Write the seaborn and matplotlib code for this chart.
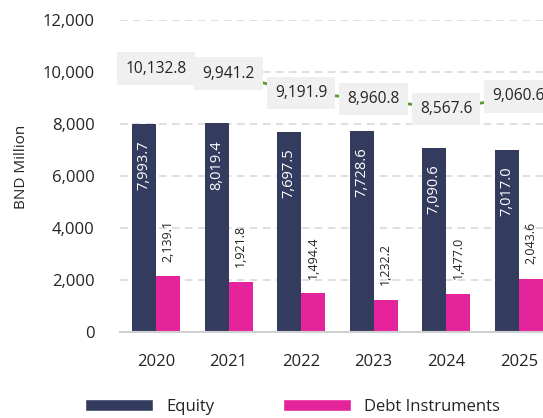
import numpy as np
import pandas as pd
import matplotlib
matplotlib.use("Agg")
import matplotlib.pyplot as plt
from matplotlib.patches import Patch
from matplotlib.ticker import FuncFormatter
import seaborn as sns

years = ["2020", "2021", "2022", "2023", "2024", "2025"]
equity = [7993.7, 8019.4, 7697.5, 7728.6, 7090.6, 7017.0]
debt = [2139.1, 1921.8, 1494.4, 1232.2, 1477.0, 2043.6]
totals = [10132.8, 9941.2, 9191.9, 8960.8, 8567.6, 9060.6]
series = ["Equity", "Debt Instruments"]

NAVY = "#333c5f"
PINK = "#e5239a"
GREEN = "#5a9a34"
TEXT = "#252423"

sns.set_theme(style="white")
plt.rcParams["font.family"] = ["Open Sans", "DejaVu Sans"]

df = pd.DataFrame({
    "Year": years * 2,
    "Value": equity + debt,
    "Series": [series[0]] * len(years) + [series[1]] * len(years),
})

fig = plt.figure(figsize=(5.43, 4.18), dpi=100)
ax = fig.add_axes([119.7 / 543, 86 / 418, 435.3 / 543, 312 / 418])

sns.barplot(data=df, x="Year", y="Value", hue="Series", order=years,
            hue_order=series, palette=[NAVY, PINK], width=0.662, gap=0,
            saturation=1, legend=False, ax=ax, zorder=2, linewidth=0)

ax.set_xlim(-0.5, len(years) - 0.5)
ax.set_ylim(0, 12000)
ax.set_yticks(np.arange(0, 12001, 2000))
ax.yaxis.set_major_formatter(FuncFormatter(lambda v, p: f"{v:,.0f}"))
ax.grid(axis="y", color="#d6d6d6", linewidth=1.1, linestyle=(0, (5, 3.5)), zorder=0)
ax.grid(axis="x", visible=False)
for side in ["left", "right", "top"]:
    ax.spines[side].set_visible(False)
ax.spines["bottom"].set_color("#d0d0d0")
ax.spines["bottom"].set_linewidth(1.5)
ax.tick_params(axis="y", length=0, pad=18, labelsize=12, labelcolor=TEXT)
ax.tick_params(axis="x", length=0, pad=16, labelsize=12, labelcolor=TEXT)
ax.set_xlabel("")
ax.set_ylabel("BND Million", fontsize=11, color=TEXT)
ax.yaxis.set_label_coords(-0.2095, 0.53)

# value labels on the bars
eq_bars, debt_bars = ax.containers[0], ax.containers[1]
for bar, v in zip(eq_bars, equity):
    ax.annotate(f"{v:,.1f}", (bar.get_x() + bar.get_width() / 2, bar.get_height()),
                xytext=(0, -12), textcoords="offset points", rotation=90,
                ha="center", va="top", color="white", fontsize=10.5, zorder=4)
for bar, v in zip(debt_bars, debt):
    ax.annotate(f"{v:,.1f}", (bar.get_x() + bar.get_width() / 2, bar.get_height()),
                xytext=(0, 10.5), textcoords="offset points", rotation=90,
                ha="center", va="bottom", color=TEXT, fontsize=9, zorder=4)

# total line with boxed labels
xpos = np.arange(len(years))
ax.plot(xpos, totals, color=GREEN, linewidth=2, zorder=5, clip_on=False)
for x, t in zip(xpos, totals):
    ax.annotate(f"{t:,.1f}", (x, t), ha="center", va="center", fontsize=11.2,
                color=TEXT, zorder=6, annotation_clip=False,
                bbox=dict(boxstyle="square,pad=0.52", facecolor="#f0f0f0",
                          edgecolor="none"))

handles = [Patch(facecolor=NAVY, label=series[0]), Patch(facecolor=PINK, label=series[1])]
leg = fig.legend(handles=handles, loc="center left", bbox_to_anchor=(85 / 543, 11 / 418),
                 ncol=2, frameon=False, fontsize=12, handlelength=4.1, handleheight=0.72,
                 handletextpad=0.78, columnspacing=4.1, borderpad=0, borderaxespad=0)
for t in leg.get_texts():
    t.set_color(TEXT)

fig.savefig("out.png", dpi=100)
